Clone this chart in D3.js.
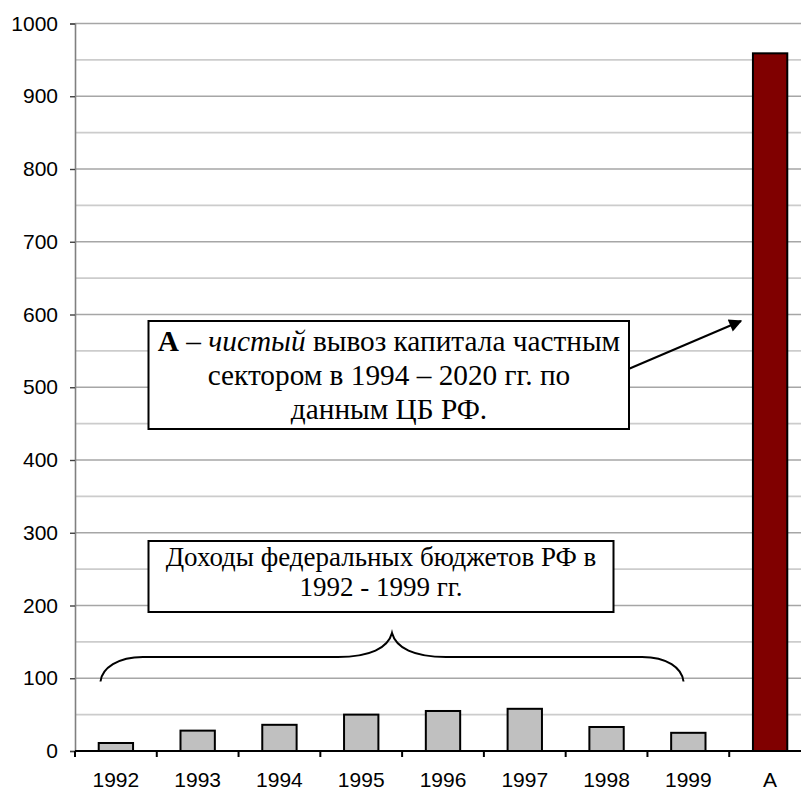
<!DOCTYPE html>
<html><head><meta charset="utf-8">
<script src="https://cdn.jsdelivr.net/npm/d3@7"></script>
<style>html,body{margin:0;padding:0;background:#fff;overflow:hidden}</style>
</head><body>
<svg id="c" width="801" height="791"></svg>
<script>
const categories = ["1992","1993","1994","1995","1996","1997","1998","1999","A"];
const values = [11, 28, 36, 50, 55, 58, 33, 25, 959];
const yTicks = [0,100,200,300,400,500,600,700,800,900,1000];
const gridValues = d3.range(50, 1001, 50);
const note1 = ["вывоз капитала частным", "сектором в 1994 – 2020 гг. по", "данным ЦБ РФ."];
const note2 = ["Доходы федеральных бюджетов РФ в", "1992 - 1999 гг."];

const svg = d3.select("#c");
const mLeft = 75, mTop = 23.5, mBottom = 751, plotW = 736;
const x = d3.scaleBand().domain(categories).range([mLeft, mLeft + plotW]).padding(0);
const xb = d3.scaleBand().domain(categories).range([mLeft, mLeft + plotW]).paddingInner(0.58).paddingOuter(0.29);
const y = d3.scaleLinear().domain([0, 1000]).range([mBottom, mTop]);

const sans = "'Liberation Sans', Arial, sans-serif";
const serif = "'Liberation Serif', 'Times New Roman', serif";

// gridlines
svg.append("g").selectAll("line").data(gridValues).join("line")
  .attr("x1", mLeft).attr("x2", 801)
  .attr("y1", d => y(d)).attr("y2", d => y(d))
  .attr("stroke", d => d % 100 === 0 ? "#a6a6a6" : "#cccccc")
  .attr("stroke-width", 1.6);

// y axis
const ya = svg.append("g").attr("transform", `translate(${mLeft},0)`)
  .call(d3.axisLeft(y).tickValues(yTicks).tickSize(5).tickPadding(12).tickFormat(d3.format("d")));
ya.select(".domain").attr("stroke", "#808080").attr("stroke-width", 1.6);
ya.selectAll(".tick line").attr("stroke", "#404040").attr("stroke-width", 1.4);
ya.selectAll("text").attr("font-family", sans).attr("font-size", 21).attr("fill", "#000");

// bars
svg.append("g").selectAll("rect").data(values).join("rect")
  .attr("x", (d, i) => xb(categories[i]))
  .attr("width", xb.bandwidth())
  .attr("y", d => y(d))
  .attr("height", d => y(0) - y(d))
  .attr("fill", (d, i) => categories[i] === "A" ? "#800000" : "#c0c0c0")
  .attr("stroke", "#000").attr("stroke-width", 2);

// x axis
const xg = svg.append("g").attr("transform", `translate(0,${mBottom})`);
xg.append("line").attr("x1", mLeft).attr("x2", 801).attr("y1", 0).attr("y2", 0).attr("stroke", "#000").attr("stroke-width", 2);
xg.selectAll("line.t").data(categories).join("line").attr("class", "t")
  .attr("x1", d => x(d)).attr("x2", d => x(d)).attr("y1", 0).attr("y2", 6)
  .attr("stroke", "#000").attr("stroke-width", 2);
xg.selectAll("text").data(categories).join("text")
  .attr("x", d => x(d) + x.bandwidth() / 2).attr("y", 36)
  .attr("text-anchor", "middle")
  .attr("font-family", sans).attr("font-size", 21)
  .text(d => d);

// box 1
svg.append("rect").attr("x", 148.5).attr("y", 321).attr("width", 480.5).attr("height", 108)
  .attr("fill", "#fff").attr("stroke", "#000").attr("stroke-width", 2);
const t1 = svg.append("text").attr("font-family", serif).attr("font-size", 29.3).attr("text-anchor", "middle");
const l1 = t1.append("tspan").attr("x", 389).attr("y", 351);
l1.append("tspan").attr("font-weight", "bold").text("А");
l1.append("tspan").text(" – ");
l1.append("tspan").attr("font-style", "italic").text("чистый");
l1.append("tspan").text(" " + note1[0]);
t1.append("tspan").attr("x", 389).attr("y", 385).text(note1[1]);
t1.append("tspan").attr("x", 389).attr("y", 419).text(note1[2]);

// arrow
svg.append("defs").append("marker").attr("id", "ah").attr("viewBox", "0 0 10 10")
  .attr("refX", 9).attr("refY", 5).attr("markerWidth", 15).attr("markerHeight", 13)
  .attr("markerUnits", "userSpaceOnUse").attr("orient", "auto")
  .append("path").attr("d", "M0,0L10,5L0,10z").attr("fill", "#000");
svg.append("line").attr("x1", 628.5).attr("y1", 369).attr("x2", 741).attr("y2", 321)
  .attr("stroke", "#000").attr("stroke-width", 2).attr("marker-end", "url(#ah)");

// box 2
svg.append("rect").attr("x", 148.5).attr("y", 541).attr("width", 465).attr("height", 71)
  .attr("fill", "#fff").attr("stroke", "#000").attr("stroke-width", 2);
const t2 = svg.append("text").attr("font-family", serif).attr("font-size", 27).attr("text-anchor", "middle");
t2.append("tspan").attr("x", 381).attr("y", 566).text(note2[0]);
t2.append("tspan").attr("x", 381).attr("y", 596).text(note2[1]);

// brace
svg.append("path")
  .attr("d", "M100.5,681.5 C102,668 118,657 143,657 L338,657 C370,657 388,648 392,633 C396,648 414,657 446,657 L642,657 C667,657 682,668 683.5,681.5")
  .attr("fill", "none").attr("stroke", "#000").attr("stroke-width", 2);
</script>
</body></html>
